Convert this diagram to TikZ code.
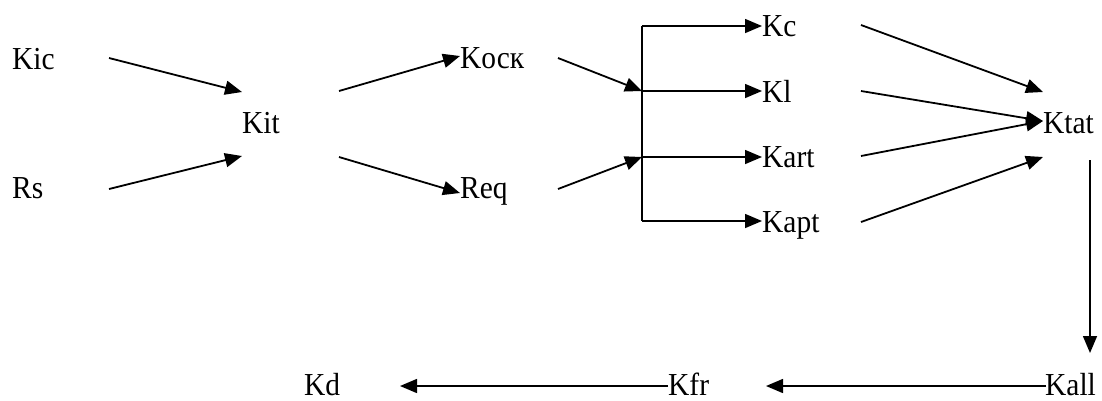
\documentclass[tikz,border=0pt]{standalone}
\usepackage{fontspec}
\setmainfont{Liberation Serif}[FakeStretch=0.92]
\usetikzlibrary{arrows.meta}
\begin{document}
\begin{tikzpicture}[x=1pt,y=-1pt,
  lbl/.style={anchor=base west,inner sep=0pt,font=\fontsize{32}{38}\selectfont},
  conn/.style={line width=1.8pt,-{Triangle[length=17pt,width=14pt]}},
  bus/.style={line width=1.5pt}]
\useasboundingbox (0,0) rectangle (1102,400);
% labels
\node[lbl] (kic) at (12,69) {Kic};
\node[lbl] (rs) at (12,198) {Rs};
\node[lbl] (kit) at (242,133) {Kit};
\node[lbl] (kosk) at (460,68) {Kоск};
\node[lbl] (req) at (460,198) {Req};
\node[lbl] (kc) at (762,36) {Kc};
\node[lbl] (kl) at (762,102) {Kl};
\node[lbl] (kart) at (762,167) {Kart};
\node[lbl] (kapt) at (762,232) {Kapt};
\node[lbl] (ktat) at (1043,133) {Ktat};
\node[lbl] (kall) at (1045,395) {Kall};
\node[lbl] (kfr) at (668,395) {Kfr};
\node[lbl] (kd) at (304,395) {Kd};
% connector end points
\coordinate (kic-o) at (109,58);  \coordinate (kit-i1) at (242,92);
\coordinate (rs-o) at (109,189);  \coordinate (kit-i2) at (242,156);
\coordinate (kit-o1) at (339,91); \coordinate (kosk-i) at (460,56);
\coordinate (kit-o2) at (339,157);\coordinate (req-i) at (460,193);
\coordinate (kosk-o) at (558,58); \coordinate (bus1) at (642,91);
\coordinate (req-o) at (558,189); \coordinate (bus2) at (642,157);
\coordinate (bustop) at (642,26); \coordinate (busbot) at (642,221);
\coordinate (kc-i) at (762,26);   \coordinate (kl-i) at (762,91);
\coordinate (kart-i) at (762,157);\coordinate (kapt-i) at (762,221);
\coordinate (kc-o) at (861,25);   \coordinate (ktat-i1) at (1043,92);
\coordinate (kl-o) at (861,91);   \coordinate (ktat-i2) at (1043,121);
\coordinate (kart-o) at (861,156);
\coordinate (kapt-o) at (861,222);\coordinate (ktat-i3) at (1043,157);
\coordinate (ktat-o) at (1090,160);\coordinate (kall-i) at (1090,353);
\coordinate (kall-o) at (1046,386);\coordinate (kfr-i) at (766,386);
\coordinate (kfr-o) at (668,386); \coordinate (kd-i) at (400,386);
% connectors
\draw[conn] (kic-o) -- (kit-i1);
\draw[conn] (rs-o) -- (kit-i2);
\draw[conn] (kit-o1) -- (kosk-i);
\draw[conn] (kit-o2) -- (req-i);
\draw[conn] (kosk-o) -- (bus1);
\draw[conn] (req-o) -- (bus2);
\draw[bus] (bustop) -- (busbot);
\draw[conn,line width=1.5pt] (bustop) -- (kc-i);
\draw[conn,line width=1.5pt] (bus1) -- (kl-i);
\draw[conn,line width=1.5pt] (bus2) -- (kart-i);
\draw[conn,line width=1.5pt] (busbot) -- (kapt-i);
\draw[conn] (kc-o) -- (ktat-i1);
\draw[conn] (kl-o) -- (ktat-i2);
\draw[conn] (kart-o) -- (ktat-i2);
\draw[conn] (kapt-o) -- (ktat-i3);
\draw[conn,line width=1.5pt] (ktat-o) -- (kall-i);
\draw[conn,line width=1.5pt] (kall-o) -- (kfr-i);
\draw[conn,line width=1.5pt] (kfr-o) -- (kd-i);
\end{tikzpicture}
\end{document}
